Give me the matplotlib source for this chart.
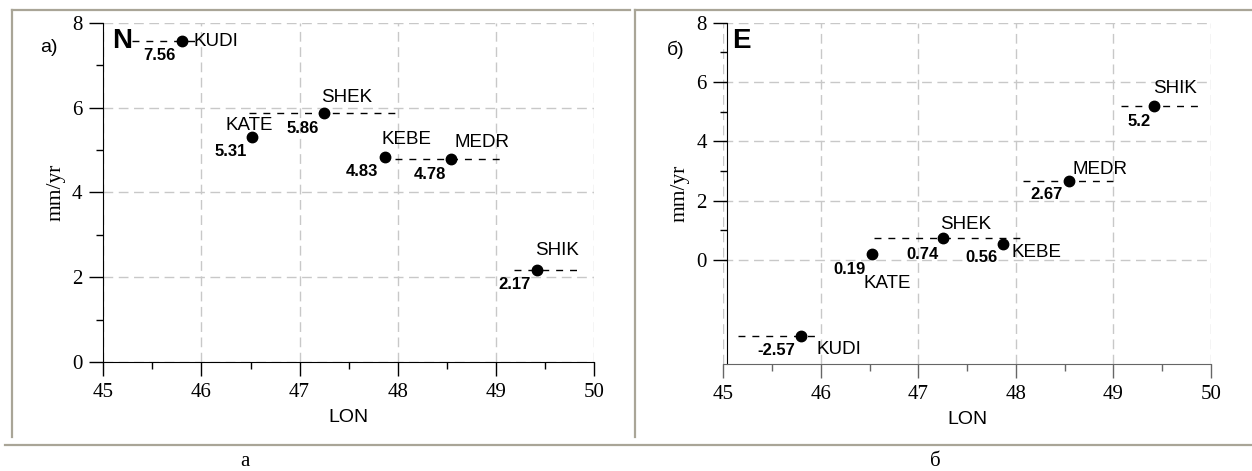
import matplotlib
matplotlib.use("Agg")
import matplotlib.pyplot as plt
from matplotlib.lines import Line2D
from matplotlib.ticker import MultipleLocator, FixedLocator

# stations (longitude)
stations = ["KUDI", "KATE", "SHEK", "KEBE", "MEDR", "SHIK"]
lon = [45.80, 46.52, 47.25, 47.87, 48.54, 49.42]

# velocities, mm/yr
v_north = [7.56, 5.31, 5.86, 4.83, 4.78, 2.17]
v_east = [-2.57, 0.19, 0.74, 0.56, 2.67, 5.2]

# dashed horizontal segments (station, lon from, lon to)
seg_north = [("KUDI", 45.29, 45.94), ("SHEK", 46.48, 47.97),
             ("MEDR", 47.97, 49.08), ("SHIK", 49.18, 49.85)]
seg_east = [("KUDI", 45.15, 45.98), ("SHEK", 46.55, 48.08),
            ("MEDR", 48.07, 49.00), ("SHIK", 49.08, 49.89)]

# label offsets in pixels: (dx, dy, ha) for name, (dx, dy) for value (right aligned)
name_off_n = [(12, 0, "left"), (-3.6, -11, "center"), (-3, -16, "left"),
              (-3, -18, "left"), (4, -17, "left"), (-2, -19, "left")]
val_off_n = [(-6, 14), (-6, 15), (-5, 15), (-7, 14), (-5, 15), (-6, 15)]
name_off_e = [(15, 13, "left"), (-8, 29, "left"), (-3, -14, "left"),
              (8, 9, "left"), (4, -11, "left"), (-1, -17, "left")]
val_off_e = [(-6, 14), (-6, 15), (-4, 16), (-6, 14), (-6, 14), (-4, 16)]

W, H = 1252, 471
fig = plt.figure(figsize=(W / 100, H / 100), dpi=100)

SERIF = "Liberation Serif"
SANS = "Liberation Sans"
FRAME = "#a9a597"
PT = 0.72  # px -> pt


def draw_panel(rect, vals, segs, name_off, val_off, comp, ymin, xcol):
    ax = fig.add_axes(rect)
    ax.set_xlim(45, 50)
    ax.set_ylim(ymin, 8)
    for s in ("top", "right"):
        ax.spines[s].set_visible(False)
    ax.spines["bottom"].set_color(xcol)
    ax.xaxis.set_major_locator(MultipleLocator(1))
    ax.xaxis.set_minor_locator(MultipleLocator(0.5))
    ax.yaxis.set_major_locator(FixedLocator([0, 2, 4, 6, 8]))
    ax.yaxis.set_minor_locator(FixedLocator([1, 3, 5, 7]))
    ax.tick_params(which="major", length=10, width=1, direction="out",
                   labelsize=15, labelfontfamily=SERIF, pad=5)
    ax.tick_params(which="minor", length=5, width=1, direction="out")
    ax.tick_params(axis="x", which="both", colors=xcol, labelcolor="black")
    ax.grid(True, which="major", color="#c8c8c8", linestyle=(0, (7, 4)), lw=1)
    ax.set_axisbelow(True)

    for name, x0, x1 in segs:
        y = vals[stations.index(name)]
        ax.plot([x0, x1], [y, y], color="black", lw=1, ls=(0, (5, 5)), zorder=2)
    ax.plot(lon, vals, "o", color="black", ms=7.5, zorder=3)

    for i, st in enumerate(stations):
        dx, dy, ha = name_off[i]
        ax.annotate(st, (lon[i], vals[i]), xytext=(dx * PT, -dy * PT),
                    textcoords="offset points", ha=ha, va="center",
                    fontfamily=SANS, fontsize=13.5, zorder=4)
        dx, dy = val_off[i]
        ax.annotate(f"{vals[i]:g}", (lon[i], vals[i]), xytext=(dx * PT, -dy * PT),
                    textcoords="offset points", ha="right", va="center",
                    fontfamily=SANS, fontsize=12, fontweight="bold", zorder=4)

    ax.set_xlabel("LON", fontfamily=SANS, fontsize=14, labelpad=5)
    ax.set_ylabel("mm/yr", fontfamily=SERIF, fontsize=15.5, labelpad=5)
    ax.text(0.018, 0.945, comp, transform=ax.transAxes, fontfamily=SANS,
            fontsize=20, fontweight="bold", va="center", ha="left", zorder=5)
    return ax


ax1 = draw_panel([103.3 / W, 1 - 362 / H, 490.7 / W, 339.3 / H], v_north,
                 seg_north, name_off_n, val_off_n, "N", 0, "black")
ax2 = draw_panel([723.3 / W, 1 - 364 / H, 487.7 / W, 341.3 / H], v_east,
                 seg_east, name_off_e, val_off_e, "E", -3.5, "#666666")
ax2.spines["left"].set_position(("outward", -3))

# panel tags
fig.text(49 / W, 1 - 48 / H, "а)", fontfamily=SANS, fontsize=14, ha="center", va="center")
fig.text(676 / W, 1 - 50 / H, "б)", fontfamily=SANS, fontsize=14, ha="center", va="center")

# captions
fig.text(245 / W, 1 - 461 / H, "а", fontfamily=SERIF, fontsize=15, ha="center", va="center")
fig.text(935 / W, 1 - 461 / H, "б", fontfamily=SERIF, fontsize=15, ha="center", va="center")

# table frame
frame = [((12, 12), (10, 437)), ((12, 630), (10, 10)),
         ((635, 635), (10, 437)), ((635, 1252), (10, 10)),
         ((5, 1252), (445, 445))]
for xs, ys in frame:
    fig.add_artist(Line2D([x / W for x in xs], [1 - y / H for y in ys],
                          color=FRAME, lw=1.6))

fig.savefig("out.png", dpi=100)
